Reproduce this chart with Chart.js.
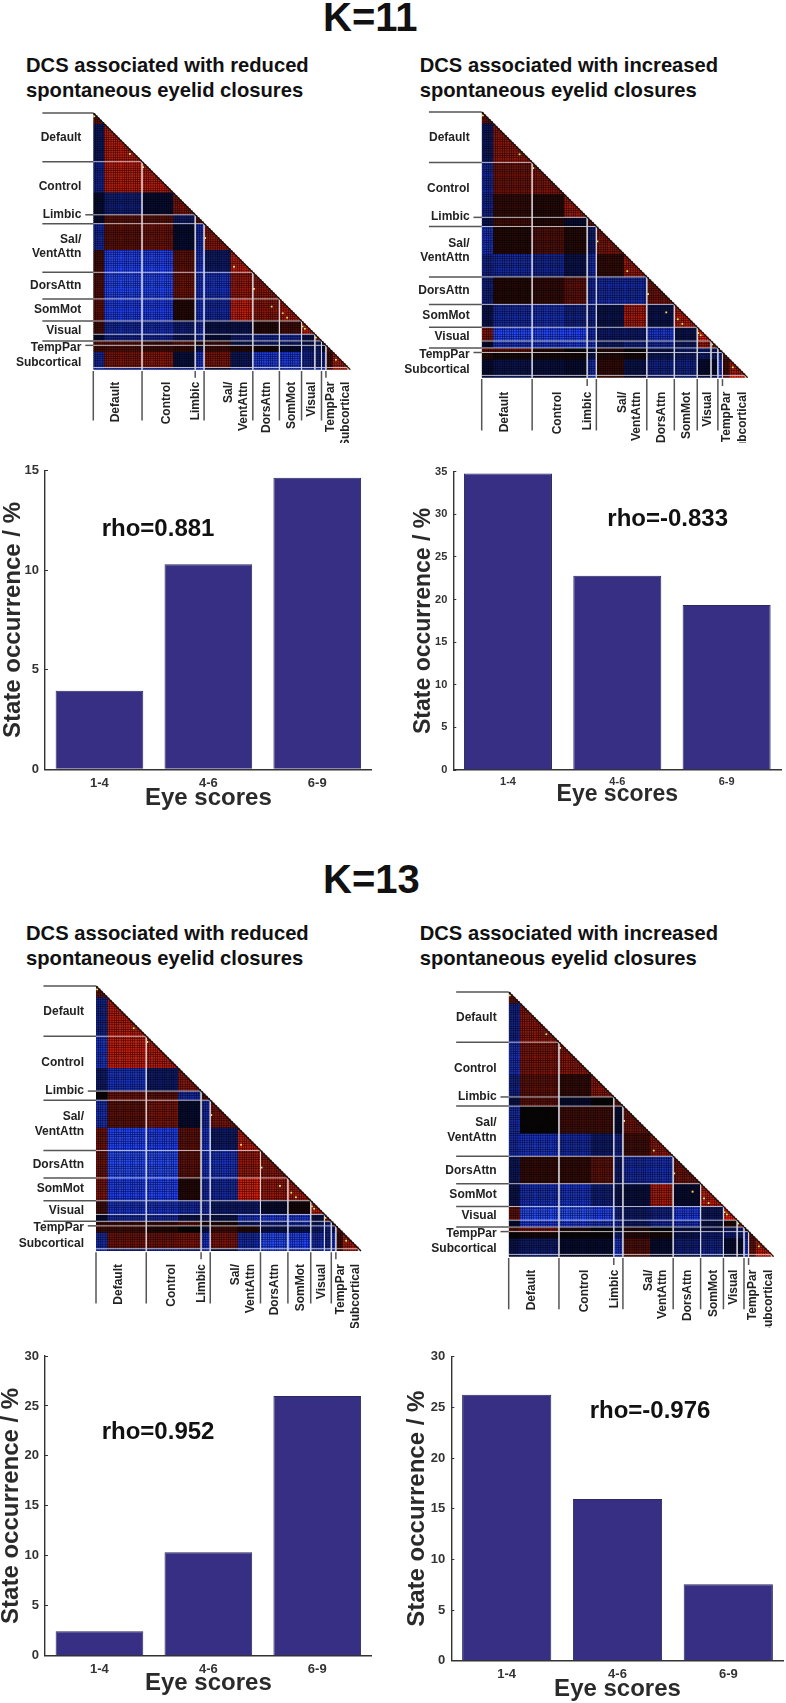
<!DOCTYPE html>
<html>
<head>
<meta charset="utf-8">
<title>K=11 / K=13</title>
<script src="https://cdn.jsdelivr.net/npm/chart.js@4"></script>
<style>
    html, body { margin: 0; padding: 0; background: #fff; }
    #page { position: relative; width: 786px; height: 1703px; overflow: hidden; }
    canvas { position: absolute; }
    .txt { position: absolute; white-space: pre; line-height: 1; font-family: "Liberation Sans", Arial, sans-serif; font-weight: bold; color: #111; }
</style>
</head>
<body>
<div id="page"></div>
<script>
// bar charts
const eye_scores = ["1-4", "4-6", "6-9"];
const k11_reduced_bars = [3.95, 10.3, 14.65];
const k11_increased_bars = [34.8, 22.8, 19.35];
const k13_reduced_bars = [2.45, 10.35, 26];
const k13_increased_bars = [26.25, 15.95, 7.55];

// matrix: size of each parcel group (sums to 116)
const group_sizes = [5, 17, 14, 10, 4, 12, 10, 12, 10, 6, 3, 2, 3, 7, 1];
const white_lines = [22, 46, 50, 72, 84, 94, 100, 103, 105, 115];
const long_ticks = [0, 22, 50, 72, 84, 94, 103];
const short_ticks = [46, 105];

const y_net_names = ["Default", "Control", "Limbic", ["Sal/", "VentAttn"], "DorsAttn", "SomMot", "Visual", "TempPar", "Subcortical"];
const y_net_pos = [11.1, 33.4, 45.8, 60.5, 78.2, 88.9, 98.2, 106, 112.7];
const x_net_pos = [10.1, 33.2, 46.2, 61.3, 78.4, 89.6, 98.6, 107, 113.8];

// cells read as bright yellow near the diagonal [row, col]
const hot_cells = [[1, 0], [18, 16], [24, 22], [56, 50], [69, 63], [79, 72], [87, 80], [90, 85], [92, 87], [96, 94], [97, 95], [101, 100], [111, 109], [115, 115]];

// mean colour of each block, lower triangle, -10 (bright blue) .. 10 (bright red)
const k11_reduced_blocks = [
    [3],
    [-2.5, 6],
    [-4, 6, 6],
    [-1, -3.5, -1, 4],
    [-1, 3, 3, -3, 3],
    [-4.5, 3, 3.5, -1, -5, 4.5],
    [2, -8, -8, 3, -6, -3, 6],
    [2.5, -8.5, -8.5, 3.5, -6, -6, 5, 4.5],
    [3, -7.5, -7.5, 1, -6, -5, 6.5, 4.5, 5.5],
    [2, -5, -5.5, -3.5, -5, -2, -2, 1, 2, 6],
    [-1, -4.5, -5, -2.5, -5, -1.5, -3.5, -4.5, -5, -2, 4],
    [3, 3, 2, 3, 1, 2, -2, -3, -3, -2, -3, 2],
    [2, 2.5, 2, 1.5, -2, 2, 1, 0.5, -1, -3, -3, -1, 3],
    [-4.5, 4, 4.5, -1.5, -6, 4, -2.5, -7, -7, -4, -3.5, -4, 2, 5.5],
    [-6, -5, -5, -5, -7, -2, -5, -6, -6, -5, -6, -6, 2, 6, 8],
];
const k11_increased_blocks = [
    [3],
    [-2.5, 4.5],
    [-4.5, 3.5, 4],
    [-4, 1.5, 1, 5],
    [-2, 2, 1, -1, 3],
    [-5.5, 1, 2.5, 1, -3, 4],
    [-4, -5, -4.5, -2, -5, 1.5, 5],
    [-3.5, 1, 1.5, 3, -4.5, -5, -5, 3.5],
    [-2, -5, -5.5, -4, -4, -2, 5.5, -2, 6],
    [4, -8.5, -8.5, -8, -5, -3, -3, -6.5, -2, 7.5],
    [-1, -6, -6.5, -7, -6, -3, -4, -5, -3, 5, 4],
    [3, 3, 1, 0, -1, 1, 0, -2, -3, -3, -3, 2],
    [1, 0.5, 0.5, 0.5, -2, 1, 0.5, -2.5, -3, -3, -3, -4, 3],
    [-1, -2, -1.5, -1, -5, 1.5, -2, -4, -4, -1, -1, -6, 2, 5.5],
    [-2, -3, -1, -1, -6, 2, -1, -3, -4, -2, -2, -6, 3, 8, 9],
];
const k13_reduced_blocks = [
    [3],
    [-4, 6],
    [-6, 6.5, 6],
    [-3, -6, -3, 4.5],
    [0, 3.5, 3, -5, 2.5],
    [-5.5, 3, 4, -1, -5, 4],
    [3.5, -8, -7.5, 3, -6, -3, 6],
    [3.5, -9, -9, 3, -6, -6, 5, 4.5],
    [4, -7.5, -8, 1, -5, -5, 7, 5, 5.5],
    [2, -6, -6, -5, -5, -3, -3, -1, 0.5, 6],
    [-1, -5, -5, -2, -3, -2, -6, -7, -7, -2, 4],
    [2, 2, 2, 3, 1, 1, -3, -4, -5, -3, -4, 2],
    [2, 2, 1, 0, -2, 2, 1, -2, -2, -3, -4, -3, 3],
    [-5, 3.5, 3.5, 4, -6, 4, -5, -9, -8, -5, -4, -6, 2, 5.5],
    [-7, -4, -5, -4, -7, -2, -6, -8, -7, -6, -7, -7, 2, 6, 8],
];
const k13_increased_blocks = [
    [3],
    [-4, 4.5],
    [-5.5, 4, 4.5],
    [-4, 3, 1.5, 4.5],
    [-2, 3, -1, 0, 3],
    [-5, 0, 2, 2, -1, 3.5],
    [-5, -6, -5, -3, -4, 2, 4.5],
    [-2.5, 1.5, 1.5, 3, -3, -5, -5.5, 3.5],
    [-2, -5.5, -6, -3.5, -2, -1.5, 5.5, -1, 6],
    [3, -9, -9.5, -8, -4, -3, -4, -7, -2.5, 7.5],
    [-1, -7, -7, -6, -5, -3, -5, -6, -2, 1, 4],
    [3, 4, 1, 0, -1, 1, 0, -2, -2, -3, -4, 2],
    [0, 0.5, 0, 0, -3, 1, 0.5, -2, -3, -3, -3, -4, 3],
    [-2, -3, -1, -1, -6, 2.5, -1, -3.5, -4, -1, -1, -6, 3, 6],
    [-2, -4, -1, -1, -6, 3, -1, -3, -4, -2, -2, -7, 3, 8, 9],
];

Chart.defaults.font.family = '"Liberation Sans", Arial, sans-serif';
Chart.defaults.font.weight = "bold";
Chart.defaults.color = "#222";

const page = document.getElementById("page");

function addText(text, left, baseline, size) {
    const el = document.createElement("div");
    el.className = "txt";
    el.textContent = text;
    el.style.left = left + "px";
    el.style.top = baseline - size * 0.8465 + "px";
    el.style.fontSize = size + "px";
    page.appendChild(el);
}

function addCanvas(left, top, width, height) {
    const cv = document.createElement("canvas");
    cv.width = width;
    cv.height = height;
    cv.style.left = left + "px";
    cv.style.top = top + "px";
    cv.style.width = width + "px";
    cv.style.height = height + "px";
    page.appendChild(cv);
    return cv;
}

function blockColor(v) {
    if (v >= 12) return "rgb(255,222,90)";
    const a = Math.abs(v) / 10;
    if (v >= 0) return `rgb(${Math.min(255, Math.round(8 + a * 300))},${Math.round(5 + a * 40)},${Math.round(5 + a * 14)})`;
    return `rgb(${Math.round(3 + a * 40)},${Math.round(4 + a * 80)},${Math.min(255, Math.round(20 + a * 300))})`;
}

function lineSet(points, color, width, order) {
    return {
        type: "scatter",
        data: points,
        showLine: true,
        borderColor: color,
        borderWidth: width,
        pointRadius: 0,
        clip: false,
        order: order,
    };
}

// scale label overflow would push the plot area in, the boxes here are fixed
function noScalePadding(s) {
    s.paddingTop = 0;
    s.paddingBottom = 0;
    s.paddingLeft = 0;
    s.paddingRight = 0;
}

// one scatter point per parcel pair, coloured from the block it sits in
function drawMatrix(blocks, box) {
    const groupOf = [];
    group_sizes.forEach((n, g) => {
        for (let i = 0; i < n; i++) groupOf.push(g);
    });
    const cells = [];
    const colors = [];
    for (let r = 0; r < groupOf.length; r++) {
        for (let c = 0; c <= r; c++) {
            const hot = hot_cells.some((h) => h[0] === r && h[1] === c);
            const v = hot ? 12 : blocks[groupOf[r]][groupOf[c]];
            cells.push({ x: c + 0.5, y: r + 0.5 });
            colors.push(blockColor(v));
        }
    }
    const n = groupOf.length;
    const pitch = box.size / n;
    const datasets = [];
    // dark backing under the cells
    datasets.push({
        type: "scatter",
        data: [{ x: 0, y: 0 }, { x: n, y: n }, { x: 0, y: n }, { x: 0, y: 0 }],
        showLine: true,
        fill: "shape",
        backgroundColor: "#050508",
        borderWidth: 0,
        pointRadius: 0,
        clip: false,
        order: 5,
    });
    datasets.push({
        type: "scatter",
        data: cells,
        pointStyle: "rect",
        pointRadius: (pitch * 0.84) / Math.SQRT2,
        pointBorderWidth: 0,
        pointBackgroundColor: colors,
        clip: false,
        order: 4,
    });
    white_lines.forEach((b) => {
        datasets.push(lineSet([{ x: b, y: b }, { x: 0, y: b }], "rgba(214,214,220,0.85)", 1, 2));
        datasets.push(lineSet([{ x: b, y: b }, { x: b, y: n }], "rgba(214,214,220,0.85)", 1, 2));
    });
    datasets.push(lineSet([{ x: 0, y: 0 }, { x: n, y: n }], "#111", 1.2, 1));
    long_ticks.forEach((b) => {
        datasets.push(lineSet([{ x: 0, y: b }, { x: -23, y: b }], "#555", 1.5, 0));
        datasets.push(lineSet([{ x: b, y: n + 0.6 }, { x: b, y: n + 23 }], "#555", 1.5, 0));
    });
    short_ticks.forEach((b) => {
        datasets.push(lineSet([{ x: 0, y: b }, { x: -3.6, y: b }], "#555", 1.5, 0));
        datasets.push(lineSet([{ x: b, y: n + 0.6 }, { x: b, y: n + 3.6 }], "#555", 1.5, 0));
    });

    const cv = addCanvas(box.canvasLeft, box.top - 3, 393, box.clipBottom - box.top + 3);
    new Chart(cv, {
        type: "scatter",
        data: { datasets: datasets },
        options: {
            responsive: false,
            animation: false,
            events: [],
            layout: { autoPadding: false, padding: { top: 3, right: 393 - (box.left - box.canvasLeft) - box.size } },
            plugins: { legend: { display: false }, tooltip: { enabled: false } },
            scales: {
                x: {
                    type: "linear",
                    position: "bottom",
                    min: 0,
                    max: n,
                    bounds: "data",
                    grid: { display: false, drawTicks: false },
                    border: { display: false },
                    afterBuildTicks: (s) => { s.ticks = x_net_pos.map((v) => ({ value: v })); },
                    afterFit: (s) => { s.height = box.clipBottom - box.top - box.size; noScalePadding(s); },
                    ticks: {
                        autoSkip: false,
                        minRotation: 90,
                        maxRotation: 90,
                        padding: box.xPad,
                        color: "#222",
                        font: { size: 12, weight: "bold" },
                        callback: (v, i) => y_net_names[i],
                    },
                },
                y: {
                    type: "linear",
                    reverse: true,
                    min: 0,
                    max: n,
                    bounds: "data",
                    grid: { display: false, drawTicks: false },
                    border: { display: false },
                    afterBuildTicks: (s) => { s.ticks = y_net_pos.map((v) => ({ value: v })); },
                    afterFit: (s) => { s.width = box.left - box.canvasLeft; noScalePadding(s); },
                    ticks: {
                        autoSkip: false,
                        padding: box.yPad,
                        color: "#222",
                        font: { size: 12, weight: "bold" },
                        callback: (v, i) => y_net_names[i],
                    },
                },
            },
        },
    });
}

function drawBars(values, box) {
    const cv = addCanvas(box.canvasLeft, box.canvasTop, box.canvasWidth, box.canvasHeight);
    const plotLeft = box.axisX - box.canvasLeft;
    const plotBottom = box.bottom - box.canvasTop;
    new Chart(cv, {
        type: "bar",
        data: {
            labels: eye_scores,
            datasets: [
                {
                    data: values,
                    backgroundColor: "#372f83",
                    borderColor: "#2a2a5c",
                    borderWidth: 1,
                    barPercentage: 0.805,
                    categoryPercentage: 1,
                },
            ],
        },
        options: {
            responsive: false,
            animation: false,
            events: [],
            layout: {
                autoPadding: false,
                padding: {
                    top: box.top - box.canvasTop,
                    right: box.canvasWidth - (box.right - box.canvasLeft),
                },
            },
            plugins: { legend: { display: false }, tooltip: { enabled: false } },
            scales: {
                x: {
                    grid: { display: false, drawTicks: false },
                    border: { color: "#333", width: 1.4 },
                    afterFit: (s) => { s.height = box.canvasHeight - plotBottom; noScalePadding(s); },
                    ticks: { padding: box.xTickPad, color: "#333", font: { size: box.tickSize, weight: "bold" } },
                    title: {
                        display: true,
                        text: "Eye scores",
                        color: "#2a2a2a",
                        font: { size: box.titleSize, weight: "bold", lineHeight: 1 },
                        padding: { top: 0, bottom: box.canvasHeight - (box.xTitleY - box.canvasTop) - box.titleSize / 2 },
                    },
                },
                y: {
                    min: 0,
                    max: box.max,
                    grid: { drawOnChartArea: false, tickLength: -3, color: "#333" },
                    border: { color: "#333", width: 1.4 },
                    afterFit: (s) => { s.width = plotLeft; noScalePadding(s); },
                    ticks: { stepSize: box.step, padding: 9, color: "#333", font: { size: box.tickSize, weight: "bold" } },
                    title: {
                        display: true,
                        text: "State occurrence / %",
                        color: "#2a2a2a",
                        font: { size: box.titleSize, weight: "bold", lineHeight: 1 },
                        padding: { top: box.yTitleX - box.canvasLeft - box.titleSize / 2, bottom: 0 },
                    },
                },
            },
        },
    });
}

addText("K=11", 323, 31, 40);
addText("K=13", 323, 893, 40);
addText("DCS associated with reduced", 26, 71.7, 20.2);
addText("spontaneous eyelid closures", 26, 96.7, 20.2);
addText("DCS associated with increased", 419.7, 71.7, 20.2);
addText("spontaneous eyelid closures", 419.7, 96.7, 20.2);
addText("DCS associated with reduced", 26, 940, 20.2);
addText("spontaneous eyelid closures", 26, 965, 20.2);
addText("DCS associated with increased", 419.7, 940, 20.2);
addText("spontaneous eyelid closures", 419.7, 965, 20.2);

drawMatrix(k11_reduced_blocks, { canvasLeft: 0, left: 93.3, top: 112.7, size: 257, clipBottom: 443, xPad: 12, yPad: 12 });
drawMatrix(k11_increased_blocks, { canvasLeft: 393, left: 481.7, top: 111.7, size: 266, clipBottom: 443, xPad: 14, yPad: 12 });
drawMatrix(k13_reduced_blocks, { canvasLeft: 0, left: 96, top: 986, size: 265, clipBottom: 1328, xPad: 13, yPad: 12 });
drawMatrix(k13_increased_blocks, { canvasLeft: 393, left: 508.7, top: 991.7, size: 265, clipBottom: 1328, xPad: 13, yPad: 12 });

drawBars(k11_reduced_bars, {
    canvasLeft: 0, canvasTop: 450, canvasWidth: 393, canvasHeight: 370,
    axisX: 45, right: 371.7, top: 470.7, bottom: 769.3, max: 15, step: 5,
    tickSize: 13, titleSize: 24, xTickPad: 6, yTitleX: 13, xTitleY: 798,
});
drawBars(k11_increased_bars, {
    canvasLeft: 393, canvasTop: 450, canvasWidth: 393, canvasHeight: 370,
    axisX: 453.3, right: 781.3, top: 471.7, bottom: 770, max: 35, step: 5,
    tickSize: 11, titleSize: 23, xTickPad: 5, yTitleX: 423.7, xTitleY: 795,
});
drawBars(k13_reduced_bars, {
    canvasLeft: 0, canvasTop: 1335, canvasWidth: 393, canvasHeight: 368,
    axisX: 45, right: 371.7, top: 1356, bottom: 1655.7, max: 30, step: 5,
    tickSize: 13, titleSize: 24, xTickPad: 6, yTitleX: 11, xTitleY: 1683,
});
drawBars(k13_increased_bars, {
    canvasLeft: 393, canvasTop: 1335, canvasWidth: 393, canvasHeight: 368,
    axisX: 451.3, right: 783.7, top: 1356.7, bottom: 1660.7, max: 30, step: 5,
    tickSize: 13, titleSize: 24, xTickPad: 6, yTitleX: 417.5, xTitleY: 1689,
});

addText("rho=0.881", 101.7, 536.7, 24);
addText("rho=-0.833", 607.3, 526.7, 24);
addText("rho=0.952", 101.7, 1439, 24);
addText("rho=-0.976", 589.7, 1418, 24);
</script>
</body>
</html>
